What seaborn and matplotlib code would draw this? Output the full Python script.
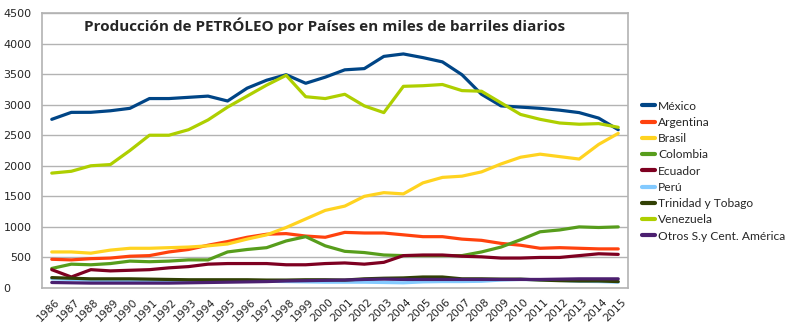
import matplotlib
matplotlib.use("Agg")
import matplotlib.pyplot as plt
import matplotlib.transforms as mtransforms
import seaborn as sns
import pandas as pd
import numpy as np

years = list(range(1986, 2016))
mexico = [2760, 2874, 2875, 2900, 2940, 3100, 3100, 3120, 3140, 3060, 3270, 3400, 3490, 3350, 3450,
          3570, 3590, 3790, 3830, 3770, 3700, 3490, 3170, 2980, 2960, 2940, 2910, 2870, 2780, 2590]
argentina = [470, 460, 480, 490, 520, 530, 590, 630, 700, 760, 830, 880, 890, 850, 830,
             910, 900, 900, 870, 840, 840, 800, 780, 730, 700, 650, 660, 650, 640, 640]
brasil = [590, 590, 570, 620, 650, 650, 660, 670, 690, 720, 800, 870, 990, 1130, 1270,
          1340, 1500, 1560, 1540, 1720, 1810, 1830, 1900, 2030, 2140, 2190, 2150, 2110, 2350, 2530]
colombia = [320, 390, 380, 400, 440, 430, 440, 460, 460, 590, 630, 660, 770, 840, 690,
            600, 580, 540, 530, 530, 530, 530, 590, 670, 790, 920, 950, 1000, 990, 1000]
ecuador = [300, 180, 300, 280, 290, 300, 330, 350, 390, 400, 400, 400, 380, 380, 400,
           410, 390, 420, 530, 540, 540, 520, 510, 490, 490, 500, 500, 530, 560, 550]
peru = [150, 140, 125, 115, 110, 105, 105, 110, 115, 115, 110, 110, 105, 100, 95,
        95, 95, 90, 85, 100, 105, 105, 110, 130, 140, 135, 125, 110, 105, 95]
trinidad = [170, 160, 150, 150, 150, 145, 140, 135, 135, 135, 135, 130, 130, 135, 135,
            130, 150, 160, 165, 180, 180, 150, 150, 145, 145, 130, 120, 115, 115, 105]
venezuela = [1880, 1910, 2000, 2020, 2250, 2500, 2500, 2590, 2750, 2960, 3140, 3320, 3480, 3130, 3100,
             3170, 2980, 2870, 3300, 3310, 3330, 3230, 3220, 3030, 2840, 2760, 2700, 2680, 2690, 2630]
otros = [90, 85, 80, 80, 80, 80, 80, 85, 90, 95, 100, 105, 115, 120, 125,
         130, 140, 145, 140, 140, 140, 140, 140, 140, 140, 140, 145, 150, 150, 150]

countries = ["México", "Argentina", "Brasil", "Colombia", "Ecuador", "Perú",
             "Trinidad y Tobago", "Venezuela", "Otros S.y Cent. América"]
series = [mexico, argentina, brasil, colombia, ecuador, peru, trinidad, venezuela, otros]
colors = ["#004586", "#ff420e", "#ffd320", "#579d1c", "#7e0021", "#83caff",
          "#314004", "#aecf00", "#4b1f6f"]
title = "Producción de PETRÓLEO por Países en miles de barriles diarios"

rows = []
for c, vals in zip(countries, series):
    for y, v in zip(years, vals):
        rows.append({"Año": y, "Valor": v, "País": c})
df = pd.DataFrame(rows)

sns.set_theme(style="white")
plt.rcParams['font.family'] = ['DejaVu Sans']

W, H = 804, 335
fig = plt.figure(figsize=(W / 100, H / 100), dpi=100)
ax = fig.add_axes([42 / W, 1 - 288 / H, (628 - 42) / W, (288 - 13) / H])

sns.lineplot(data=df, x="Año", y="Valor", hue="País", hue_order=countries,
             palette=dict(zip(countries, colors)), linewidth=2.3, ax=ax, legend=False)

ax.set_xlim(1985.5, 2015.5)
ax.set_ylim(0, 4500)
ax.set_yticks(np.arange(0, 4501, 500))
ax.set_xticks(years)
ax.set_xticklabels([str(y) for y in years], rotation=45, ha="right",
                   rotation_mode="anchor", fontsize=7.8)
ax.set_xticks(np.arange(1985.5, 2016, 1), minor=True)
ax.tick_params(axis="x", which="major", length=0, pad=6.5)
ax.tick_params(axis="x", which="minor", length=5, color="#b3b3b3", width=1)
ax.tick_params(axis="y", length=5, color="#b3b3b3", width=1, labelsize=8, pad=2.5)
ax.set_xlabel("")
ax.set_ylabel("")
ax.grid(axis="y", color="#b3b3b3", linewidth=1)
ax.set_axisbelow(True)
for s in ax.spines.values():
    s.set_color("#b3b3b3")
    s.set_linewidth(1.2)
    s.set_visible(True)

# shift x labels slightly right, and the "0" y label left as in the reference
for lab in ax.get_xticklabels():
    lab.set_transform(lab.get_transform() + mtransforms.ScaledTranslation(3 / 100, 0, fig.dpi_scale_trans))
ylabs = ax.get_yticklabels()
ylabs[0].set_transform(ylabs[0].get_transform() + mtransforms.ScaledTranslation(-21 / 100, 0, fig.dpi_scale_trans))

renderer = fig.canvas.get_renderer()

# title: fit to reference extent (x 84..563, baseline ~31 px)
t = fig.text(84 / W, 1 - 31 / H, title, ha="left", va="baseline", fontsize=12,
             family="Open Sans", fontweight="bold")
bb = t.get_window_extent(renderer)
t.set_fontsize(12 * 479 / bb.width)

# legend: fit text width and row pitch to reference
fs = 10
probe = fig.text(0, 0, countries[-1], fontsize=fs, family="Lato")
fs = fs * 127 / probe.get_window_extent(renderer).width
probe.remove()

handles = [matplotlib.lines.Line2D([], [], color=c, linewidth=3) for c in colors]
fs_px = fs * 100 / 72
ls = 0.3
for _ in range(4):
    leg = fig.legend(handles, countries, loc="upper left", bbox_to_anchor=(0, 1),
                     frameon=False, handlelength=13 / fs_px, handletextpad=3 / fs_px,
                     labelspacing=ls, borderaxespad=0, borderpad=0,
                     prop={"family": "Lato", "size": fs})
    fig.canvas.draw()
    texts = leg.get_texts()
    b0 = texts[0].get_window_extent(renderer)
    b1 = texts[-1].get_window_extent(renderer)
    pitch = ((b0.y0 + b0.y1) / 2 - (b1.y0 + b1.y1) / 2) / 8
    ls = ls + (16.25 - pitch) / fs_px
    leg.remove()

leg = fig.legend(handles, countries, loc="upper left", bbox_to_anchor=(0, 1),
                 frameon=False, handlelength=13 / fs_px, handletextpad=3 / fs_px,
                 labelspacing=ls, borderaxespad=0, borderpad=0,
                 prop={"family": "Lato", "size": fs})
fig.canvas.draw()
texts = leg.get_texts()
b0 = texts[0].get_window_extent(renderer)
lb = leg.get_window_extent(renderer)
dx = 658 - b0.x0
dy = (H - 106) - (b0.y0 + b0.y1) / 2
leg.set_bbox_to_anchor(((lb.x0 + dx) / W, (lb.y1 + dy) / H), transform=fig.transFigure)

fig.savefig("out.png", dpi=100)
